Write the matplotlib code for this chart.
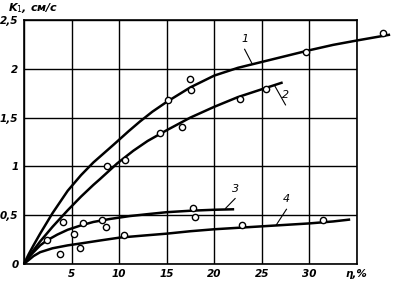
import matplotlib
matplotlib.use("Agg")
import matplotlib.pyplot as plt

# curves
x1 = [0, 0.5, 1, 1.7, 3, 4.6, 6, 7.3, 8, 9.4, 11, 12.2, 13.5, 15, 17.5, 20, 22.5, 25, 27.5, 30, 32.5, 35, 38.5]
y1 = [0, 0.1, 0.19, 0.31, 0.52, 0.75, 0.91, 1.04, 1.1, 1.22, 1.36, 1.46, 1.56, 1.66, 1.81, 1.93, 2.01, 2.07, 2.13, 2.19, 2.245, 2.29, 2.35]
x2 = [0, 0.5, 1, 1.7, 3, 4.6, 6, 7.3, 8, 9.8, 11.5, 13, 15, 17.5, 20, 22.5, 25, 27.2]
y2 = [0, 0.07, 0.14, 0.23, 0.38, 0.55, 0.69, 0.81, 0.87, 1.03, 1.16, 1.26, 1.37, 1.5, 1.61, 1.71, 1.79, 1.86]
x3 = [0, 0.5, 1, 1.7, 2.4, 3.5, 4.6, 6, 7.3, 9, 11.1, 13, 15, 17.5, 20, 22.1]
y3 = [0, 0.07, 0.12, 0.19, 0.24, 0.3, 0.35, 0.395, 0.43, 0.46, 0.49, 0.51, 0.53, 0.545, 0.555, 0.56]
x4 = [0, 0.5, 1, 1.7, 3, 4.6, 6, 8, 10.1, 12.5, 15, 17.5, 20, 22.5, 25, 27.5, 30, 32.5, 34.3]
y4 = [0, 0.04, 0.08, 0.12, 0.16, 0.19, 0.21, 0.24, 0.27, 0.29, 0.31, 0.335, 0.355, 0.37, 0.385, 0.4, 0.415, 0.435, 0.455]

# measured points
px = [15.1, 17.45, 17.6, 29.7, 37.8, 8.7, 10.6, 14.3, 16.6, 22.7, 25.5,
      2.4, 4.1, 3.8, 5.3, 6.2, 5.9, 8.2, 8.6, 10.5, 17.8, 18.0, 22.9, 31.4]
py = [1.68, 1.895, 1.78, 2.17, 2.37, 1.0, 1.06, 1.34, 1.40, 1.69, 1.79,
      0.25, 0.43, 0.10, 0.31, 0.42, 0.16, 0.45, 0.38, 0.30, 0.57, 0.48, 0.40, 0.45]

xticks = [5, 10, 15, 20, 25, 30]
yticks = [0, 0.5, 1, 1.5, 2, 2.5]
ylabels = ["0", "0,5", "1", "1,5", "2", "2,5"]

fig = plt.figure(figsize=(3.93, 2.9), dpi=100)
ax = fig.add_axes([0.061, 0.09, 0.847, 0.841])

for xs, ys in [(x1, y1), (x2, y2), (x3, y3), (x4, y4)]:
    ax.plot(xs, ys, color="black", lw=1.8, clip_on=False,
            solid_capstyle="butt", solid_joinstyle="round")
ax.plot(px, py, "o", mfc="white", mec="black", ms=4.5, mew=1, clip_on=False, zorder=5)

# curve numbers with leader lines
labels = [("1", (24.0, 2.05), (23.2, 2.25)),
          ("2", (26.4, 1.82), (27.5, 1.68)),
          ("3", (21.2, 0.57), (22.2, 0.72)),
          ("4", (26.5, 0.395), (27.6, 0.61))]
for t, (xa, ya), (xt, yt) in labels:
    ax.plot([xa, xt], [ya, yt - 0.05], color="black", lw=0.8)
    ax.text(xt, yt, t, fontsize=8, style="italic", ha="center", va="bottom")

ax.set_xlim(0, 35)
ax.set_ylim(0, 2.5)
ax.set_xticks([0] + xticks + [35])
ax.set_xticklabels([""] + [str(v) for v in xticks] + ["η,%"])
ax.set_yticks(yticks)
ax.set_yticklabels(ylabels)
ax.tick_params(length=0, labelsize=7.5, pad=4)
for lab in ax.get_xticklabels() + ax.get_yticklabels():
    lab.set_fontstyle("italic")
    lab.set_fontweight("bold")
ax.grid(True, color="black", lw=1)
for s in ax.spines.values():
    s.set_linewidth(1.2)

fig.text(0.02, 0.997, "K$_1$, см/с", fontsize=8, style="italic", fontweight="bold", va="top")

fig.savefig("out.png", dpi=100)
